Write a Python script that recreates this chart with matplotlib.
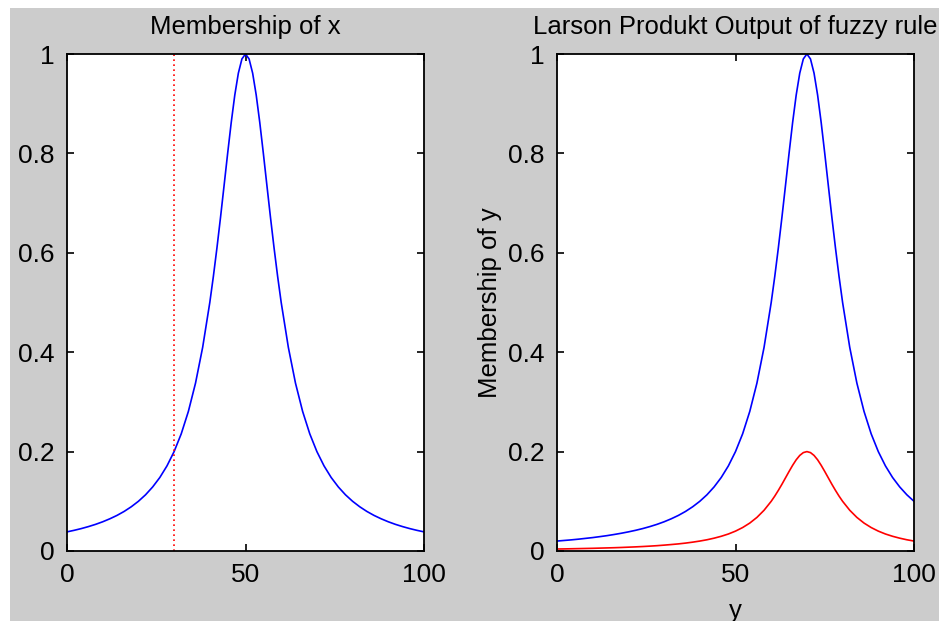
import matplotlib
matplotlib.use("Agg")
import matplotlib.pyplot as plt
from matplotlib.patches import Rectangle

# ---- data ----
x_vals = list(range(0, 40, 2)) + list(range(40, 61)) + list(range(62, 101, 2))
mu_x = [0.0385, 0.0416, 0.0451, 0.0491, 0.0536, 0.0588, 0.0648, 0.0716, 0.0796, 0.0890,
        0.1000, 0.1131, 0.1289, 0.1479, 0.1712, 0.2000, 0.2358, 0.2809, 0.3378, 0.4098,
        0.5000, 0.5525, 0.6098, 0.6711, 0.7353, 0.8000, 0.8621, 0.9174, 0.9615, 0.9901,
        1.0000,
        0.9901, 0.9615, 0.9174, 0.8621, 0.8000, 0.7353, 0.6711, 0.6098, 0.5525, 0.5000,
        0.4098, 0.3378, 0.2809, 0.2358, 0.2000, 0.1712, 0.1479, 0.1289, 0.1131, 0.1000,
        0.0890, 0.0796, 0.0716, 0.0648, 0.0588, 0.0536, 0.0491, 0.0451, 0.0416, 0.0385]
x_input = 30

y_vals = list(range(0, 60, 2)) + list(range(60, 81)) + list(range(82, 101, 2))
mu_y = [0.0200, 0.0212, 0.0224, 0.0238, 0.0254, 0.0270, 0.0289, 0.0309, 0.0332, 0.0357,
        0.0385, 0.0416, 0.0451, 0.0491, 0.0536, 0.0588, 0.0648, 0.0716, 0.0796, 0.0890,
        0.1000, 0.1131, 0.1289, 0.1479, 0.1712, 0.2000, 0.2358, 0.2809, 0.3378, 0.4098,
        0.5000, 0.5525, 0.6098, 0.6711, 0.7353, 0.8000, 0.8621, 0.9174, 0.9615, 0.9901,
        1.0000,
        0.9901, 0.9615, 0.9174, 0.8621, 0.8000, 0.7353, 0.6711, 0.6098, 0.5525, 0.5000,
        0.4098, 0.3378, 0.2809, 0.2358, 0.2000, 0.1712, 0.1479, 0.1289, 0.1131, 0.1000]
larson_out = [0.0040, 0.0042, 0.0045, 0.0048, 0.0051, 0.0054, 0.0058, 0.0062, 0.0066, 0.0071,
              0.0077, 0.0083, 0.0090, 0.0098, 0.0107, 0.0118, 0.0130, 0.0143, 0.0159, 0.0178,
              0.0200, 0.0226, 0.0258, 0.0296, 0.0342, 0.0400, 0.0472, 0.0562, 0.0676, 0.0820,
              0.1000, 0.1105, 0.1220, 0.1342, 0.1471, 0.1600, 0.1724, 0.1835, 0.1923, 0.1980,
              0.2000,
              0.1980, 0.1923, 0.1835, 0.1724, 0.1600, 0.1471, 0.1342, 0.1220, 0.1105, 0.1000,
              0.0820, 0.0676, 0.0562, 0.0472, 0.0400, 0.0342, 0.0296, 0.0258, 0.0226, 0.0200]

x_ticks = [0, 50, 100]
y_ticks = [0, 0.2, 0.4, 0.6, 0.8, 1]
y_ticklabels = ["0", "0.2", "0.4", "0.6", "0.8", "1"]

plt.rcParams['font.family'] = ['Liberation Sans', 'DejaVu Sans']

W, H = 939, 621
fig = plt.figure(figsize=(W / 100, H / 100), dpi=100, facecolor='white')
fig.patches.append(Rectangle((10 / W, 0), 1 - 10 / W, 1 - 8 / H,
                             transform=fig.transFigure, facecolor='#cccccc',
                             edgecolor='none', zorder=-10))

ax_top, ax_bot = 54, 551
ax_h = (ax_bot - ax_top) / H
ax_b = (H - ax_bot) / H
ax_w = (424 - 67) / W
ax1 = fig.add_axes([67 / W, ax_b, ax_w, ax_h])
ax2 = fig.add_axes([557 / W, ax_b, ax_w, ax_h])

for ax in (ax1, ax2):
    ax.set_facecolor('white')
    ax.set_xlim(0, 100)
    ax.set_ylim(0, 1)
    ax.set_xticks(x_ticks)
    ax.set_xticklabels([str(t) for t in x_ticks])
    ax.set_yticks(y_ticks)
    ax.set_yticklabels(y_ticklabels)
    ax.tick_params(direction='in', length=5, width=1.2, top=True, right=True,
                   labelsize=19, pad=9, colors='black')
    for s in ax.spines.values():
        s.set_linewidth(1.3)
        s.set_color('black')

ax1.plot(x_vals, mu_x, color='#0000ff', lw=1.2)
ax1.plot([x_input, x_input], [0, 1], color='#ff0000', lw=1.2, linestyle=(0, (1, 2)))
ax1.set_title("Membership of x", fontsize=18.5, pad=14.5)

ax2.plot(y_vals, mu_y, color='#0000ff', lw=1.2)
ax2.plot(y_vals, larson_out, color='#ff0000', lw=1.2)
ax2.set_title("Larson Produkt Output of fuzzy rule", fontsize=18.5, pad=14.5)
ax2.set_ylabel("Membership of y", fontsize=18.5, labelpad=4)
ax2.set_xlabel("y", fontsize=18.5, labelpad=8)

fig.savefig("out.png", dpi=100, facecolor=fig.get_facecolor())
